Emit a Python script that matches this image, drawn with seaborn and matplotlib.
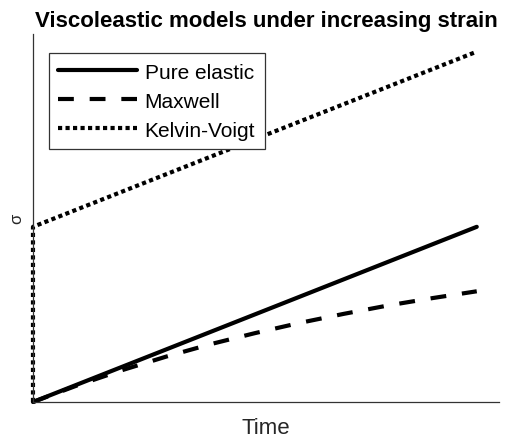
import matplotlib
matplotlib.use("Agg")
import matplotlib.pyplot as plt
import pandas as pd
import seaborn as sns

# Normalised time and stress under a constant strain rate
time_elastic = [0.0, 1.0]
stress_elastic = [0.0, 1.0]

time_maxwell = [0.0, 0.1, 0.2, 0.3, 0.4, 0.5, 0.6, 0.7, 0.8, 0.9, 1.0]
stress_maxwell = [0.0, 0.095, 0.181, 0.259, 0.330, 0.393, 0.451, 0.503, 0.551, 0.593, 0.632]

time_kelvin = [0.0, 0.0, 1.0]
stress_kelvin = [0.0, 1.0, 2.0]

series_names = ["Pure elastic", "Maxwell", "Kelvin-Voigt"]

sns.set_style("white")
plt.rcParams["font.family"] = ["Liberation Sans", "DejaVu Sans"]
plt.rcParams["text.color"] = "black"
plt.rcParams["axes.labelcolor"] = "#262626"

frames = []
for name, t, s in zip(series_names,
                      [time_elastic, time_maxwell, time_kelvin],
                      [stress_elastic, stress_maxwell, stress_kelvin]):
    frames.append(pd.DataFrame({"t": t, "sigma": s, "model": name}))
df = pd.concat(frames, ignore_index=True)

fig = plt.figure(figsize=(5.05, 4.39), dpi=100)
ax = fig.add_axes([0.0653, 0.082, 0.9227, 0.838])

styles = {
    "Pure elastic": "-",
    "Maxwell": (0, (3.8, 3.8)),
    "Kelvin-Voigt": (0, (1.0, 0.8)),
}
for name in series_names:
    sub = df[df["model"] == name]
    sns.lineplot(data=sub, x="t", y="sigma", ax=ax, color="black",
                 linewidth=3, linestyle=styles[name], estimator=None,
                 sort=False, label=name)
for line in ax.get_lines():
    line.set_clip_on(False)

ax.set_xlim(0, 1.05)
ax.set_ylim(0, 2.1)
ax.set_xticks([])
ax.set_yticks([])
for side in ["top", "right"]:
    ax.spines[side].set_visible(False)
for side in ["left", "bottom"]:
    ax.spines[side].set_color("#333333")
    ax.spines[side].set_linewidth(0.9)

ax.set_xlabel("Time", fontsize=16, labelpad=11)
ax.set_ylabel("σ", fontsize=12, labelpad=6)
ax.set_title("Viscoleastic models under increasing strain",
             fontsize=16, fontweight="bold", pad=6)

leg = ax.legend(loc="upper left", bbox_to_anchor=(0.034, 0.948),
                fontsize=15, handlelength=3.8, handletextpad=0.35,
                fancybox=False, framealpha=1, edgecolor="#333333",
                borderpad=0.45, labelspacing=0.48, borderaxespad=0)
leg.get_frame().set_linewidth(0.9)

fig.savefig("out.png", dpi=100)
